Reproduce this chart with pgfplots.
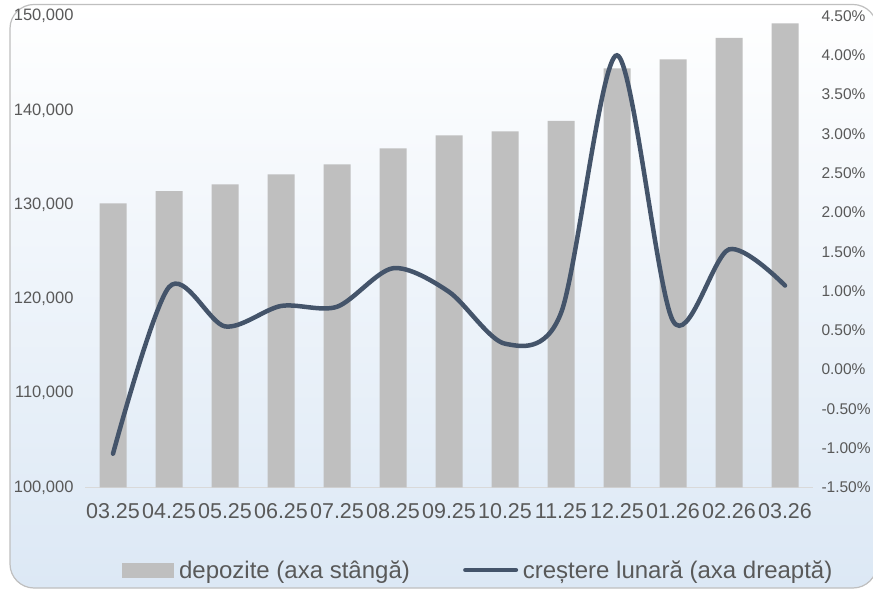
\documentclass[border=0pt]{standalone}
\usepackage{pgfplots}
\pgfplotsset{compat=1.18}
\usepackage{pgfplotstable}
\usepackage{fontspec}
\setmainfont{Liberation Sans}

\definecolor{barc}{HTML}{BFBFBF}
\definecolor{linec}{HTML}{44546A}
\definecolor{txt}{HTML}{595959}
\definecolor{bgb}{HTML}{DCE8F5}
\definecolor{framec}{HTML}{BFBFBF}
\definecolor{axisc}{HTML}{D9D9D9}

% luna, depozite, crestere lunara (%)
\pgfplotstableread{
x dep cr
0 130140 -1.07
1 131440 1.05
2 132150 0.55
3 133210 0.81
4 134270 0.80
5 135970 1.29
6 137350 0.99
7 137770 0.33
8 138870 0.72
9 144450 4.00
10 145410 0.62
11 147670 1.53
12 149230 1.07
}\data

\pgfplotsset{
  common/.style={
    at={(85bp,101.5bp)}, anchor=south west,
    scale only axis, width=728bp, height=471.5bp,
    xmin=-0.5, xmax=12.5,
    major tick length=0pt, tick style={draw=none},
    /pgf/number format/assume math mode=true,
    ticklabel style={text=txt},
  }
}

\begin{document}
\begin{tikzpicture}
\useasboundingbox (0,0) rectangle (873bp,589bp);
\begin{scope}
  \clip (0,0) rectangle (873bp,589bp);
  \shadedraw[rounded corners=24bp, top color=white, bottom color=bgb,
    draw=framec, line width=1.2bp] (10bp,1bp) rectangle (877bp,584.5bp);
\end{scope}

\begin{axis}[common,
  ymin=100000, ymax=150000, ytick distance=10000,
  scaled y ticks=false,
  yticklabel={\pgfmathprintnumber[fixed,precision=0,1000 sep={,}]{\tick}},
  yticklabel style={font=\fontsize{16.5bp}{20bp}\selectfont, xshift=-8bp},
  axis x line*=bottom, axis y line*=left,
  y axis line style={draw=none},
  x axis line style={draw=axisc, line width=1.3bp},
  xtick={0,...,12},
  xticklabels={03.25,04.25,05.25,06.25,07.25,08.25,09.25,10.25,11.25,12.25,01.26,02.26,03.26},
  xticklabel style={font=\fontsize{21.5bp}{25bp}\selectfont, yshift=-12bp},
]
  \addplot[ybar, bar width=27bp, fill=barc, draw=none] table[x=x, y=dep] {\data};
\end{axis}

\begin{axis}[common,
  ymin=-1.5, ymax=4.5,
  ytick={-1.5,-1,-0.5,0,0.5,1,1.5,2,2.5,3,3.5,4,4.5},
  yticklabel={\pgfmathprintnumber[fixed,fixed zerofill,precision=2]{\tick}\%},
  yticklabel style={font=\fontsize{15.5bp}{19bp}\selectfont, xshift=5bp},
  axis y line*=right, axis x line=none,
  y axis line style={draw=none},
  clip=false,
  legend columns=2,
  legend style={at={(axis description cs:0.0508,-0.175)}, anchor=west,
    draw=none, fill=none, inner sep=0pt,
    font=\fontsize{24bp}{28bp}\selectfont, text=txt,
    nodes={inner sep=0pt},
    /tikz/every odd column/.append style={column sep=2.5bp},
    /tikz/every even column/.append style={column sep=51bp}},
]
  \addlegendimage{legend image code/.code={
      \path (0,0) (54bp,0);
      \fill[barc] (0,-7bp) rectangle (51bp,7bp);}}
  \addlegendentry{depozite (axa stângă)}
  \addplot[linec, line width=4.5bp, line cap=round, smooth, no markers,
    legend image code/.code={
      \path (0,0) (55bp,0);
      \draw[linec, line width=4.5bp, line cap=round] (2.25bp,0) -- (52.75bp,0);}]
    table[x=x, y=cr] {\data};
  \addlegendentry{creștere lunară (axa dreaptă)}
\end{axis}
\end{tikzpicture}
\end{document}
